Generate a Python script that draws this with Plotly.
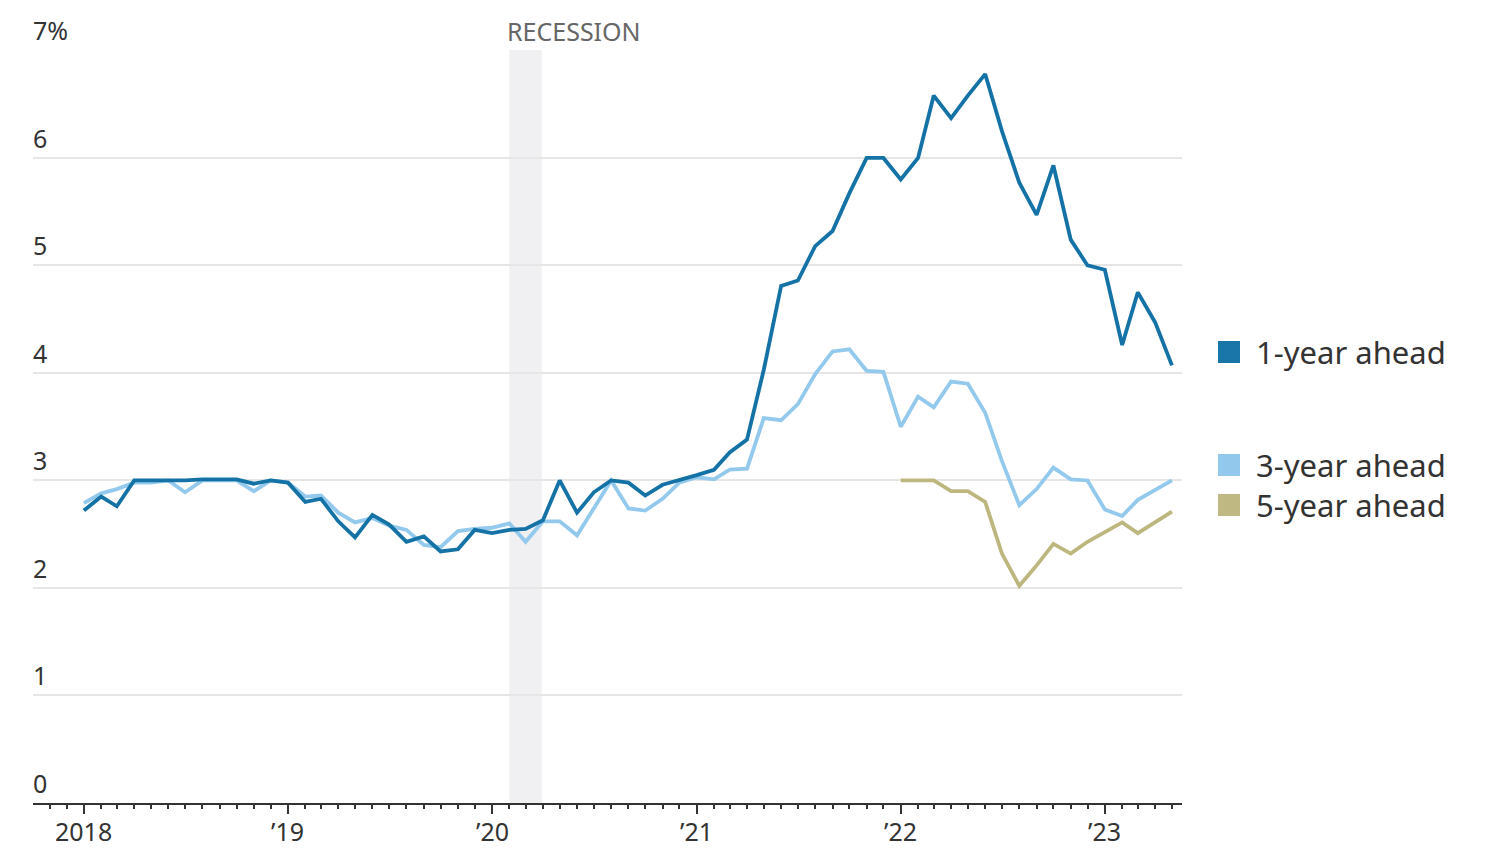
import plotly.graph_objects as go
import pandas as pd

months = pd.date_range("2018-01-01", "2023-05-01", freq="MS")

one_year = [
    2.72, 2.85, 2.76, 3.00, 3.00, 3.00, 3.00, 3.01, 3.01, 3.01, 2.97, 3.00,
    2.98, 2.80, 2.83, 2.62, 2.47, 2.68, 2.59, 2.43, 2.48, 2.34, 2.36, 2.54,
    2.51, 2.54, 2.55, 2.63, 3.00, 2.70, 2.89, 3.00, 2.98, 2.86, 2.96, 3.00,
    3.05, 3.10, 3.26, 3.38, 4.03, 4.81, 4.86, 5.18, 5.32, 5.67, 6.00, 6.00,
    5.80, 6.00, 6.58, 6.37, 6.58, 6.78, 6.25, 5.77, 5.47, 5.93, 5.24, 5.00,
    4.96, 4.26, 4.75, 4.47, 4.07,
]
three_year = [
    2.79, 2.88, 2.92, 2.98, 2.98, 3.00, 2.89, 3.00, 3.00, 3.00, 2.90, 3.00,
    2.98, 2.85, 2.86, 2.70, 2.61, 2.65, 2.58, 2.54, 2.40, 2.38, 2.53, 2.55,
    2.56, 2.60, 2.43, 2.62, 2.62, 2.49, 2.74, 3.00, 2.74, 2.72, 2.83, 2.98,
    3.03, 3.01, 3.10, 3.11, 3.58, 3.56, 3.71, 3.99, 4.20, 4.22, 4.02, 4.01,
    3.50, 3.78, 3.68, 3.92, 3.90, 3.63, 3.18, 2.77, 2.92, 3.12, 3.01, 3.00,
    2.73, 2.67, 2.82, 2.91, 3.00,
]
five_months = pd.date_range("2022-01-01", "2023-05-01", freq="MS")
five_year = [
    3.00, 3.00, 3.00, 2.90, 2.90, 2.80, 2.32, 2.02, 2.21, 2.41, 2.32, 2.43,
    2.52, 2.61, 2.51, 2.61, 2.71,
]

series_names = ["1-year ahead", "3-year ahead", "5-year ahead"]
series_colors = ["#1472a6", "#93c9ec", "#bdb77f"]
legend_colors = ["#1a76a8", "#92c8ec", "#bfb883"]
legend_y = [352, 465, 505]  # screen pixel rows of legend entries

year_ticks = ["2018-01-01", "2019-01-01", "2020-01-01", "2021-01-01", "2022-01-01", "2023-01-01"]
year_labels = ["2018", "\u201919", "\u201920", "\u201921", "\u201922", "\u201923"]
y_ticks = [0, 1, 2, 3, 4, 5, 6, 7]
y_labels = ["0", "1", "2", "3", "4", "5", "6", "7%"]

recession_start = "2020-02-01"
recession_end = "2020-03-30"

FONT = "Noto Sans"
OFF = 8  # page body margin
W, H = 1484, 842
ML, MR, MT, MB = 33 - OFF, W - (1182 - OFF), 50 - OFF, H - (803 - OFF)
PW, PH = W - ML - MR, H - MT - MB


def px_x(sx):
    return (sx - OFF - ML) / PW


def px_y(sy):
    return (H - MB - (sy - OFF)) / PH


fig = go.Figure()
fig.add_vrect(x0=recession_start, x1=recession_end, y0=0, y1=1,
              fillcolor="#f0f0f2", line_width=0, layer="below")

fig.add_trace(go.Scatter(x=months, y=three_year, mode="lines",
                         line=dict(color=series_colors[1], width=3.8), name=series_names[1]))
fig.add_trace(go.Scatter(x=five_months, y=five_year, mode="lines",
                         line=dict(color=series_colors[2], width=3.8), name=series_names[2]))
fig.add_trace(go.Scatter(x=months, y=one_year, mode="lines",
                         line=dict(color=series_colors[0], width=3.8), name=series_names[0]))

fig.add_annotation(x=recession_start, y=1, xref="x", yref="paper", yanchor="bottom",
                   xanchor="left", text="RECESSION", showarrow=False, xshift=-4, yshift=0,
                   font=dict(family=FONT, size=25, color="#666666"))

for val, lab in zip(y_ticks, y_labels):
    fig.add_annotation(x=0, y=val, xref="paper", yref="y", xanchor="left", yanchor="bottom",
                       text=lab, showarrow=False, xshift=-2, yshift=1,
                       font=dict(family=FONT, size=25, color="#333333"))

# x-axis year labels placed just under the tick marks
for tv, tl in zip(year_ticks, year_labels):
    fig.add_annotation(x=tv, y=0, xref="x", yref="paper", xanchor="center", yanchor="top",
                       text=tl, showarrow=False, yshift=-9,
                       font=dict(family=FONT, size=25, color="#333333"))

for name, col, sy in zip(series_names, legend_colors, legend_y):
    fig.add_shape(type="rect", xref="paper", yref="paper",
                  x0=px_x(1218), x1=px_x(1240),
                  y0=px_y(sy + 11), y1=px_y(sy - 11),
                  fillcolor=col, line_width=0)
    fig.add_annotation(x=px_x(1254), y=px_y(sy), xref="paper", yref="paper",
                       xanchor="left", yanchor="middle", text=name, showarrow=False,
                       font=dict(family=FONT, size=31, color="#333333"))

fig.update_layout(
    width=W, height=H,
    margin=dict(l=ML, r=MR, t=MT, b=MB, autoexpand=False),
    plot_bgcolor="white", paper_bgcolor="white",
    showlegend=False,
    font=dict(family=FONT, color="#333333"),
)
fig.update_xaxes(
    range=["2017-10-02", "2023-05-19"],
    tickvals=year_ticks, showticklabels=False,
    ticks="outside", ticklen=9, tickwidth=1.5, tickcolor="#333333",
    minor=dict(dtick="M1", tick0="2018-01-01", ticks="outside", ticklen=4,
               tickwidth=1.5, tickcolor="#333333", showgrid=False),
    showgrid=False, showline=True, linecolor="#333333", linewidth=1.5,
    zeroline=False, automargin=False,
)
fig.update_yaxes(
    range=[0, 7.004], tickvals=y_ticks, showticklabels=False, ticks="",
    showgrid=True, gridcolor="#e6e6e6", gridwidth=2,
    zeroline=False, automargin=False,
)

fig.write_html("out.html")
